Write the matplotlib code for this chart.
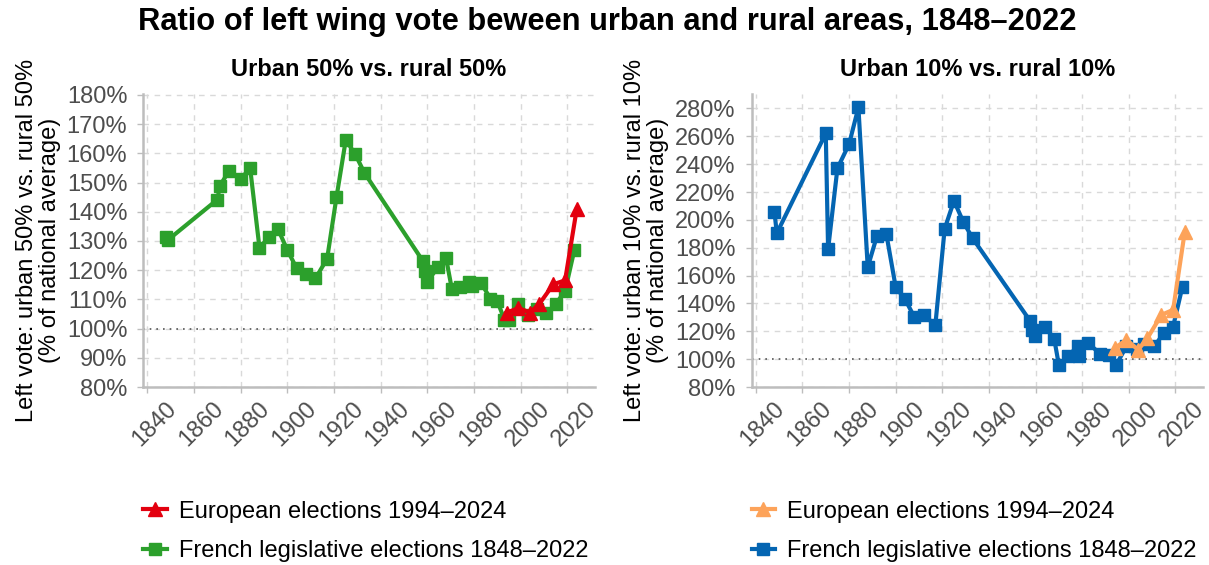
import matplotlib
matplotlib.use("Agg")
import matplotlib.pyplot as plt
import matplotlib.transforms as mtransforms

plt.rcParams['font.family'] = ['Liberation Sans', 'DejaVu Sans']

# Urban 50% vs rural 50% (left panel), legislative elections
years_leg_50 = [1848, 1849, 1870, 1871, 1875, 1880, 1884, 1888, 1892, 1896, 1900,
                1904, 1908, 1912, 1917, 1921, 1925, 1929, 1933, 1958, 1959, 1960,
                1964.5, 1968, 1970.5, 1974, 1978, 1979, 1983, 1987, 1990, 1993,
                1995, 1999, 2003, 2007, 2011, 2015, 2019, 2023]
ratio_leg_50 = [131.5, 130.5, 144.2, 148.9, 154.0, 151.2, 155.0, 127.7, 131.2, 134.0,
                126.8, 120.6, 118.8, 117.2, 123.9, 144.9, 164.6, 159.8, 153.3, 123.2,
                119.7, 115.9, 121.2, 124.1, 113.4, 114.2, 116.0, 114.5, 115.7, 110.2,
                109.3, 103.1, 102.9, 108.4, 104.8, 106.8, 105.2, 108.4, 112.9, 127.0]

# European elections, left panel
years_eu_50 = [1994, 1999, 2004, 2008, 2014, 2019, 2024]
ratio_eu_50 = [105.5, 107.0, 105.5, 108.5, 115.2, 116.5, 141.0]

# Urban 10% vs rural 10% (right panel), legislative elections
years_leg_10 = [1848, 1849, 1870, 1871, 1875, 1880, 1884, 1888, 1892, 1896, 1900,
                1904, 1908, 1912, 1917, 1921, 1925, 1929, 1933, 1957.6, 1958.6,
                1959.6, 1964, 1968, 1970, 1974, 1978, 1978.6, 1982.4, 1987.6,
                1991.4, 1994.6, 1999, 2003.5, 2006.7, 2011, 2015, 2019, 2023]
ratio_leg_10 = [205.4, 190.4, 262.1, 178.9, 237.0, 254.4, 280.7, 166.0, 188.7, 189.7,
                151.7, 143.1, 130.2, 131.8, 124.4, 193.5, 213.7, 198.5, 186.8, 127.6,
                121.1, 116.3, 123.4, 114.5, 95.8, 102.3, 109.1, 102.0, 111.8, 104.0,
                103.2, 96.0, 109.3, 107.5, 110.8, 109.4, 118.7, 123.4, 152.1]

# European elections, right panel
years_eu_10 = [1994, 1999, 2004, 2008, 2014, 2019, 2024]
ratio_eu_10 = [108.0, 113.9, 106.7, 115.1, 131.8, 135.4, 191.5]

xticks = list(range(1840, 2021, 20))

fig = plt.figure(figsize=(12.09, 5.65), dpi=100)
ax1 = fig.add_axes([0.1185, 0.315, 0.3736, 0.5185])
ax2 = fig.add_axes([0.6217, 0.315, 0.3733, 0.5185])

panels = [
    (ax1, years_eu_50, ratio_eu_50, years_leg_50, ratio_leg_50, '#e3000f', '#2ca02c',
     (80, 180.3), range(80, 181, 10), "Urban 50% vs. rural 50%",
     "Left vote: urban 50% vs. rural 50%\n(% of national average)", 0.032),
    (ax2, years_eu_10, ratio_eu_10, years_leg_10, ratio_leg_10, '#fda35a', '#0465b2',
     (80, 290.3), range(80, 281, 20), "Urban 10% vs. rural 10%",
     "Left vote: urban 10% vs. rural 10%\n(% of national average)", 0.535),
]

for ax, ye, re_, yl, rl, c_eu, c_leg, ylim, yt, title, ylab, ylx in panels:
    leg, = ax.plot(yl, rl, color=c_leg, lw=3, marker='s', ms=8, zorder=3)
    eu, = ax.plot(ye, re_, color=c_eu, lw=3, marker='^', ms=9.5, zorder=4)
    ax.axhline(100, color='#555555', lw=1.2, ls=(0, (1, 3)), zorder=2)
    ax.set_xlim(1838.2, 2031.8)
    ax.set_ylim(*ylim)
    ax.set_xticks(xticks)
    ax.set_yticks(list(yt))
    ax.set_yticklabels([f"{v}%" for v in yt])
    ax.grid(True, color='#d9d9d9', ls=(0, (4, 4)), lw=1)
    ax.set_axisbelow(True)
    for s in ['top', 'right']:
        ax.spines[s].set_visible(False)
    for s in ['left', 'bottom']:
        ax.spines[s].set_color('#bdbdbd')
        ax.spines[s].set_linewidth(1.8)
    ax.tick_params(axis='both', colors='#bdbdbd', labelcolor='#4d4d4d', labelsize=17,
                   length=4, width=1)
    ax.tick_params(axis='y', pad=7.5)
    offset = mtransforms.ScaledTranslation(7 / 100, 0, fig.dpi_scale_trans)
    for lab in ax.get_xticklabels():
        lab.set_rotation(45)
        lab.set_ha('center')
        lab.set_transform(lab.get_transform() + offset)
    ax.set_title(title, fontsize=17, fontweight='bold', pad=13)
    fig.text(ylx, 0.575, ylab, rotation=90, ha='center', va='center',
             multialignment='center', fontsize=17, linespacing=1.05)
    ax.legend([eu, leg], ["European elections 1994–2024",
                          "French legislative elections 1848–2022"],
                   loc='upper left', bbox_to_anchor=(-0.047, -0.315), frameon=False,
              fontsize=17, handlelength=1.0, labelspacing=0.75, handletextpad=0.5)

fig.text(0.502, 0.961, "Ratio of left wing vote beween urban and rural areas, 1848–2022",
         fontsize=22.2, fontweight='bold', ha='center', va='center')

fig.savefig("out.png", dpi=100)
